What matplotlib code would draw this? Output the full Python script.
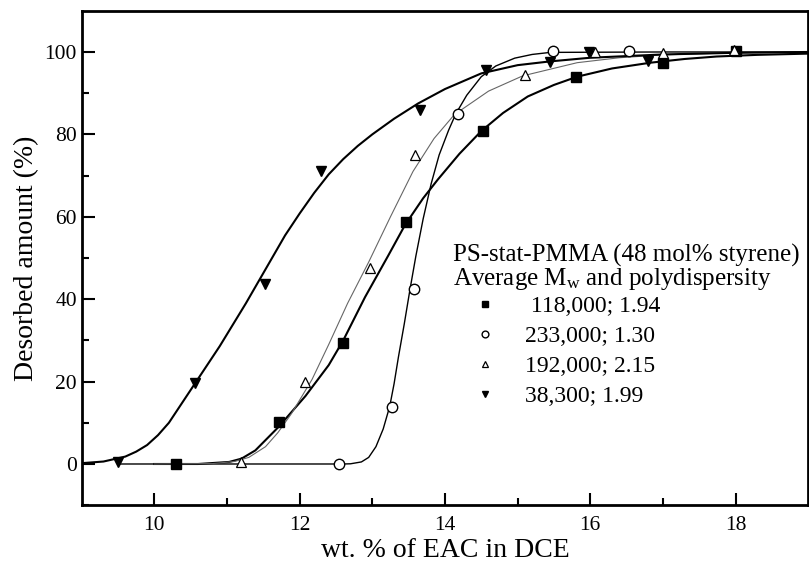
import matplotlib
matplotlib.use("Agg")
import matplotlib.pyplot as plt

plt.rcParams['font.family'] = ['Liberation Serif', 'DejaVu Serif']
plt.rcParams['mathtext.default'] = 'regular'

sq_x = [10.3, 11.72, 12.6, 13.46, 14.53, 15.81, 17.0, 18.0]
sq_y = [0.0, 10.2, 29.3, 58.8, 80.7, 94.0, 97.4, 100.2]

circ_x = [12.54, 13.27, 13.58, 14.18, 15.49, 16.53]
circ_y = [0.0, 13.8, 42.4, 85.0, 100.3, 100.3]

tri_x = [11.19, 12.07, 12.97, 13.59, 15.1, 16.07, 17.0, 17.98]
tri_y = [0.5, 20.0, 47.5, 74.9, 94.3, 99.9, 99.8, 100.4]

down_x = [9.5, 10.56, 11.52, 12.29, 13.65, 14.56, 15.45, 15.98, 16.8]
down_y = [0.5, 19.7, 43.6, 71.0, 85.8, 95.6, 97.6, 100.0, 97.9]

# fitted curves
sq_fit_x = [10.0, 10.6, 11.03, 11.2, 11.39, 11.71, 12.08, 12.4, 12.6, 12.9, 13.22,
            13.45, 13.7, 13.9, 14.2, 14.5, 14.8, 15.14, 15.5, 15.82, 16.3, 16.83,
            17.3, 17.74, 18.3, 19.0]
sq_fit_y = [0.0, 0.0, 0.5, 1.3, 3.3, 9.0, 16.5, 24.0, 30.0, 40.5, 50.6,
            58.0, 64.5, 69.0, 75.3, 80.8, 85.2, 89.2, 92.0, 94.0, 96.0, 97.4,
            98.3, 98.9, 99.3, 99.6]

circ_fit_x = [9.5, 12.6, 12.7, 12.85, 12.95, 13.05, 13.15, 13.24, 13.3, 13.36,
              13.44, 13.52, 13.6, 13.7, 13.81, 13.92, 14.05, 14.15, 14.3, 14.5,
              14.7, 14.96, 15.2, 15.45, 17.0, 19.0]
circ_fit_y = [0.0, 0.0, 0.05, 0.5, 1.6, 4.2, 8.5, 14.0, 19.5, 26.0,
              34.0, 42.5, 50.5, 59.5, 68.0, 75.0, 81.0, 85.0, 89.5, 94.0,
              96.6, 98.5, 99.4, 99.9, 100.0, 100.0]

tri_fit_x = [10.0, 10.8, 11.1, 11.3, 11.53, 11.7, 11.89, 12.17, 12.4, 12.66, 12.95,
             13.25, 13.56, 13.85, 14.13, 14.6, 15.07, 15.82, 16.4, 17.0, 18.0, 19.0]
tri_fit_y = [0.0, 0.1, 0.6, 1.6, 4.2, 7.6, 12.3, 20.5, 29.0, 39.0, 49.0,
             60.0, 71.0, 79.0, 84.8, 90.5, 94.2, 97.4, 98.6, 99.3, 99.8, 100.0]

down_fit_x = [9.0, 9.3, 9.6, 9.75, 9.9, 10.05, 10.2, 10.55, 10.9, 11.26, 11.62,
              11.8, 12.0, 12.2, 12.4, 12.6, 12.8, 13.0, 13.3, 13.63, 14.0, 14.5,
              15.0, 15.44, 16.0, 17.0, 18.0, 19.0]
down_fit_y = [0.2, 0.6, 1.8, 3.0, 4.6, 7.0, 10.0, 19.3, 28.6, 39.0, 50.0,
              55.5, 60.8, 65.8, 70.3, 74.0, 77.2, 80.0, 83.8, 87.5, 91.0, 94.8,
              96.8, 97.7, 98.6, 99.4, 99.8, 100.0]

labels = [' 118,000; 1.94', '233,000; 1.30', '192,000; 2.15', '38,300; 1.99']

fig = plt.figure(figsize=(8.09, 5.67), dpi=100)
ax = fig.add_axes([0.101, 0.109, 0.898, 0.872])

# curves
ax.plot(sq_fit_x, sq_fit_y, color='black', lw=1.5)
ax.plot(circ_fit_x, circ_fit_y, color='black', lw=1.0)
ax.plot(tri_fit_x, tri_fit_y, color='0.4', lw=0.8)
ax.plot(down_fit_x, down_fit_y, color='black', lw=1.5)

# points
ms = 7.5
h1, = ax.plot(sq_x, sq_y, 's', color='black', ms=ms, ls='none')
h2, = ax.plot(circ_x, circ_y, 'o', mfc='white', mec='black', mew=1.0, ms=ms, ls='none')
h3, = ax.plot(tri_x, tri_y, '^', mfc='white', mec='black', mew=0.9, ms=ms, ls='none')
h4, = ax.plot(down_x, down_y, 'v', color='black', ms=ms, ls='none')

ax.set_xlim(9, 19)
ax.set_ylim(-10, 110)
ax.set_xticks([10, 12, 14, 16, 18])
ax.set_xticks([11, 13, 15, 17], minor=True)
ax.set_yticks([0, 20, 40, 60, 80, 100])
ax.set_yticks([-10, 10, 30, 50, 70, 90], minor=True)
ax.tick_params(which='both', direction='in', width=1.5, labelsize=15.5)
ax.tick_params(which='major', length=9)
ax.tick_params(which='minor', length=5)
ax.tick_params(axis='x', pad=8)
for s in ax.spines.values():
    s.set_linewidth(2)

ax.set_xlabel('wt. % of EAC in DCE', fontsize=20, labelpad=2)
ax.set_ylabel('Desorbed amount (%)', fontsize=20, labelpad=4)

# legend header and entries
ax.text(0.511, 0.506, 'PS-stat-PMMA (48 mol% styrene)', transform=ax.transAxes,
        fontsize=18, va='center', ha='left')
ax.text(0.511, 0.457, 'Average M$_w$ and polydispersity', transform=ax.transAxes,
        fontsize=18, va='center', ha='left')
ax.legend([h1, h2, h3, h4], labels, loc='upper left', bbox_to_anchor=(0.539, 0.424),
          frameon=False, fontsize=17, markerscale=0.65, handlelength=1.0,
          handletextpad=1.2, borderpad=0, borderaxespad=0, labelspacing=0.36)

fig.savefig('out.png', dpi=100)
